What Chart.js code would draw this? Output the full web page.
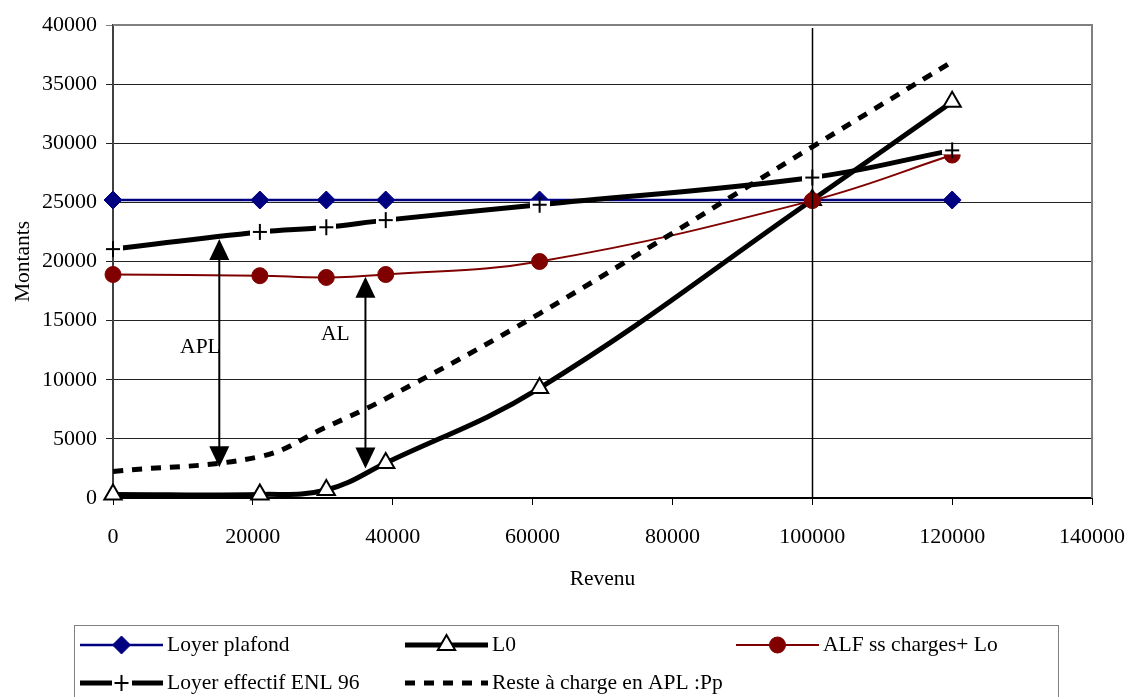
<!DOCTYPE html>
<html lang="fr">
<head>
<meta charset="utf-8">
<title>Loyers et aides selon le revenu</title>
<script src="https://cdn.jsdelivr.net/npm/chart.js@4.4.1/dist/chart.umd.min.js"></script>
<style>
  html, body { margin: 0; padding: 0; background: #fff; }
  #wrap { width: 1126px; height: 697px; }
</style>
</head>
<body>
<div id="wrap"><canvas id="chart" width="1126" height="697"></canvas></div>
<script>
// revenus (axe x) et montants de chaque courbe
var revenus = [0, 21000, 30500, 39000, 61000, 100000, 120000];
var loyerPlafond = [25200, 25200, 25200, 25200, 25200, 25200, 25200];
var l0 = [300, 300, 680, 2960, 9300, 25200, 33500];
var alfLo = [18900, 18800, 18650, 18900, 20000, 25150, 29000];
var loyerEffectif = [21050, 22500, 22900, 23500, 24800, 27100, 29400];
var resteApl = [2250, 3500, 6000, 8400, 15600, 29700, 36900];

var noms = ["Loyer plafond", "L0", "ALF ss charges+ Lo", "Loyer effectif ENL 96", "Reste à charge en APL :Pp"];

// double flèches APL / AL
var flecheNoms = ["APL", "AL"];
var flecheX = [15200, 36100];
var flecheHaut = [21900, 18700];
var flecheBas = [2600, 2500];
var texteX = [12500, 31800];
var texteY = [12700, 13800];

// revenu de référence (trait vertical)
var revenuRepere = 100000;

var serif = "'Liberation Serif', 'Times New Roman', serif";
Chart.defaults.font.family = serif;
Chart.defaults.font.size = 21.5;
Chart.defaults.color = "#000";

serie = (valeurs) => {
  return revenus.map(function (r, i) {
    return { x: r, y: valeurs[i] };
  });
};

// marqueur "+" sur fond blanc (coupe le trait épais comme dans Excel)
makePlus = () => {
  let c = document.createElement("canvas");
  c.width = 20;
  c.height = 20;
  let g = c.getContext("2d");
  g.fillStyle = "#fff";
  g.fillRect(0, 6, 20, 8);
  g.strokeStyle = "#000";
  g.lineWidth = 2;
  g.beginPath();
  g.moveTo(3, 10);
  g.lineTo(17, 10);
  g.moveTo(10, 2);
  g.lineTo(10, 18);
  g.stroke();
  return c;
};
var plusMarker = makePlus();

drawArrowHead = (ctx, x, y, dir) => {
  ctx.beginPath();
  ctx.moveTo(x, y);
  ctx.lineTo(x - 10, y + dir * 21);
  ctx.lineTo(x + 10, y + dir * 21);
  ctx.closePath();
  ctx.fill();
};

// trait vertical, flèches et libellés APL / AL
const annotations = {
  id: "annotations",
  afterDatasetsDraw(chart) {
    const { ctx, scales: { x, y }, chartArea } = chart;
    ctx.save();

    let xr = Math.round(x.getPixelForValue(revenuRepere)) + 0.5;
    ctx.strokeStyle = "#000";
    ctx.lineWidth = 1.5;
    ctx.beginPath();
    ctx.moveTo(xr, chartArea.top + 3);
    ctx.lineTo(xr, chartArea.bottom);
    ctx.stroke();

    ctx.fillStyle = "#000";
    ctx.lineWidth = 2;
    for (let i = 0; i < flecheNoms.length; i++) {
      let px = x.getPixelForValue(flecheX[i]),
        top = y.getPixelForValue(flecheHaut[i]),
        bottom = y.getPixelForValue(flecheBas[i]);
      ctx.beginPath();
      ctx.moveTo(px, top + 18);
      ctx.lineTo(px, bottom - 18);
      ctx.stroke();
      drawArrowHead(ctx, px, top, 1);
      drawArrowHead(ctx, px, bottom, -1);

      ctx.font = "21.5px " + serif;
      ctx.textAlign = "center";
      ctx.textBaseline = "middle";
      ctx.fillText(flecheNoms[i], x.getPixelForValue(texteX[i]), y.getPixelForValue(texteY[i]));
    }
    ctx.restore();
  },
  afterDraw(chart) {
    const { ctx, chartArea } = chart;
    ctx.save();
    // cadre haut et droit
    ctx.strokeStyle = "#808080";
    ctx.lineWidth = 2;
    ctx.beginPath();
    ctx.moveTo(chartArea.left, chartArea.top);
    ctx.lineTo(chartArea.right, chartArea.top);
    ctx.lineTo(chartArea.right, chartArea.bottom);
    ctx.stroke();

    // légende encadrée, trois colonnes
    ctx.lineWidth = 1;
    ctx.strokeRect(74.5, 625.5, 984, 90);
    let cols = [80, 405, 736],
      rows = [645, 683];
    chart.data.datasets.forEach(function (ds, i) {
      let x0 = cols[i % 3],
        y0 = rows[Math.floor(i / 3)],
        x1 = x0 + 83;
      ctx.strokeStyle = ds.borderColor;
      ctx.lineWidth = ds.borderWidth;
      ctx.setLineDash(ds.borderDash || []);
      ctx.beginPath();
      ctx.moveTo(x0, y0);
      ctx.lineTo(x1, y0);
      ctx.stroke();
      ctx.setLineDash([]);
      if (ds.pointRadius > 0) {
        ctx.fillStyle = ds.pointBackgroundColor || ds.backgroundColor;
        ctx.strokeStyle = ds.pointBorderColor || ds.borderColor;
        ctx.lineWidth = ds.pointBorderWidth;
        Chart.helpers.drawPoint(ctx, {
          pointStyle: ds.pointStyle,
          rotation: 0,
          radius: ds.pointRadius,
          borderWidth: ds.pointBorderWidth,
        }, (x0 + x1) / 2, y0);
      }
      ctx.fillStyle = "#000";
      ctx.font = "21.5px " + serif;
      ctx.textAlign = "left";
      ctx.textBaseline = "middle";
      ctx.fillText(ds.label, x1 + 4, y0);
    });
    ctx.restore();
  },
};

new Chart(document.getElementById("chart"), {
  type: "line",
  data: {
    datasets: [
      {
        label: noms[0],
        data: serie(loyerPlafond),
        borderColor: "#000080",
        backgroundColor: "#000080",
        borderWidth: 2.5,
        pointStyle: "rectRot",
        pointRadius: 9,
        pointBorderWidth: 1,
        tension: 0,
        order: 5,
      },
      {
        label: noms[1],
        data: serie(l0),
        borderColor: "#000",
        backgroundColor: "#fff",
        pointBackgroundColor: "#fff",
        borderWidth: 5,
        pointStyle: "triangle",
        pointRadius: 10,
        pointBorderWidth: 2,
        tension: 0.4,
        order: 4,
      },
      {
        label: noms[2],
        data: serie(alfLo),
        borderColor: "#800000",
        backgroundColor: "#800000",
        borderWidth: 2,
        pointStyle: "circle",
        pointRadius: 8,
        pointBorderWidth: 1,
        tension: 0.4,
        order: 3,
      },
      {
        label: noms[3],
        data: serie(loyerEffectif),
        borderColor: "#000",
        backgroundColor: "#000",
        borderWidth: 5,
        pointStyle: plusMarker,
        pointRadius: 10,
        pointBorderWidth: 2,
        tension: 0.4,
        order: 2,
      },
      {
        label: noms[4],
        data: serie(resteApl),
        borderColor: "#000",
        backgroundColor: "#000",
        borderWidth: 5,
        borderDash: [10, 9],
        pointRadius: 0,
        pointBorderWidth: 0,
        tension: 0.4,
        order: 1,
      },
    ],
  },
  options: {
    responsive: false,
    animation: false,
    devicePixelRatio: 1,
    layout: { padding: { top: 25, right: 34, bottom: 97, left: 0 } },
    datasets: { line: { clip: false } },
    plugins: {
      legend: { display: false },
      tooltip: { enabled: false },
    },
    scales: {
      x: {
        type: "linear",
        min: 0,
        max: 140000,
        ticks: {
          stepSize: 20000,
          padding: 19,
          maxRotation: 0,
          font: { size: 22 },
          callback: (v) => String(v),
        },
        grid: { drawOnChartArea: false, drawTicks: true, tickLength: 7, color: "#000" },
        border: { color: "#000", width: 2 },
        title: { display: true, text: "Revenu", padding: { top: 0, bottom: 8 } },
        afterFit: (s) => {
          s.height = 102;
          s.paddingLeft = 0;
          s.paddingRight = 0;
        },
      },
      y: {
        min: 0,
        max: 40000,
        ticks: {
          stepSize: 5000,
          padding: 9,
          font: { size: 22 },
          callback: (v) => String(v),
        },
        grid: {
          drawTicks: true,
          tickLength: 7,
          color: (c) => (c.tick && c.tick.value === 40000 ? "#808080" : "#222"),
          lineWidth: 1,
        },
        border: { color: "#404040", width: 2 },
        title: { display: true, text: "Montants", padding: { top: 10, bottom: 0 } },
        afterFit: (s) => {
          s.width = 113;
          s.paddingTop = 0;
          s.paddingBottom = 0;
        },
      },
    },
  },
  plugins: [annotations],
});
</script>
</body>
</html>
